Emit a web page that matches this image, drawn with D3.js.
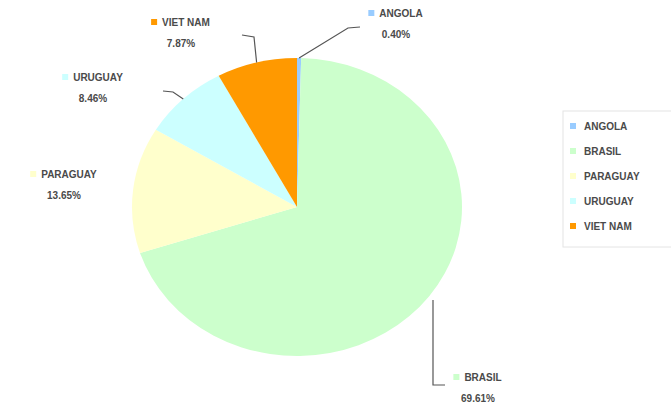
<!DOCTYPE html>
<html>
<head>
<meta charset="utf-8">
<script src="https://cdn.jsdelivr.net/npm/d3@7"></script>
<style>
  body { margin: 0; background: #fff; }
  text { font-family: "Liberation Sans", Arial, sans-serif; }
</style>
</head>
<body>
<div id="chart"></div>
<script>
// data
const countries = ["ANGOLA", "BRASIL", "PARAGUAY", "URUGUAY", "VIET NAM"]
const shares = [0.40, 69.61, 13.65, 8.46, 7.87]
const colors = ["#99ccff", "#ccffcc", "#ffffcc", "#ccffff", "#ff9900"]

const width = 671
const height = 410
const cx = 297, cy = 207
const rx = 165, ry = 149

const svg = d3.select("#chart").append("svg")
    .attr("width", width)
    .attr("height", height)

const data = countries.map((c, i) => ({ name: c, value: shares[i], color: colors[i] }))

const pie = d3.pie().sort(null).value(d => d.value)
const arcs = pie(data)

const arc = d3.arc().innerRadius(0).outerRadius(ry)

// pie is drawn slightly wider than tall, like the reference
const pieGroup = svg.append("g")
    .attr("transform", `translate(${cx},${cy}) scale(${rx / ry},1)`)

pieGroup.selectAll("path")
  .data(arcs)
  .join("path")
    .attr("d", arc)
    .attr("fill", d => d.data.color)

// point on the ellipse edge at the slice's mid angle
const edge = (d, k = 1) => {
  const a = (d.startAngle + d.endAngle) / 2
  return [cx + rx * k * Math.sin(a), cy - ry * k * Math.cos(a)]
}

// label layout (name position, leader elbow, leader end)
const layout = {
  "ANGOLA":   { x: 396, y: 17, elbow: [348, 28], end: [360, 27] },
  "BRASIL":   { x: 478, y: 381, elbow: [433, 385], end: [445, 385], start: [433, 300] },
  "PARAGUAY": { x: 64, y: 178 },
  "URUGUAY":  { x: 93, y: 81, elbow: [173, 92], end: [163, 91] },
  "VIET NAM": { x: 181, y: 26, elbow: [254, 37], end: [242, 35] },
}

const labels = svg.append("g")

arcs.forEach(d => {
  const L = layout[d.data.name]
  if (L.elbow) {
    const p0 = L.start || edge(d, 1.0)
    labels.append("path")
        .attr("d", d3.line()([p0, L.elbow, L.end]))
        .attr("fill", "none")
        .attr("stroke", "#555")
        .attr("stroke-width", 1.2)
  }
  const name = labels.append("text")
      .attr("x", L.x + 5)
      .attr("y", L.y)
      .attr("text-anchor", "middle")
      .attr("font-size", 10)
      .attr("font-weight", "bold")
      .attr("fill", "#4a4a4a")
      .text(d.data.name)
  const w = name.node().getComputedTextLength()
  labels.append("rect")
      .attr("x", L.x + 5 - w / 2 - 11)
      .attr("y", L.y - 7)
      .attr("width", 6)
      .attr("height", 6)
      .attr("fill", d.data.color)
  labels.append("text")
      .attr("x", L.x)
      .attr("y", L.y + 21)
      .attr("text-anchor", "middle")
      .attr("font-size", 10)
      .attr("font-weight", "bold")
      .attr("fill", "#4a4a4a")
      .text(d3.format(".2f")(d.data.value) + "%")
})

// legend
const legend = svg.append("g")
    .attr("transform", "translate(563,111)")

legend.append("rect")
    .attr("width", 110)
    .attr("height", 136)
    .attr("fill", "none")
    .attr("stroke", "#e4e4e4")

const legendY = d3.scalePoint()
    .domain(countries)
    .range([19, 119])

const items = legend.selectAll(".item")
  .data(data)
  .join("g")
    .attr("class", "item")
    .attr("transform", d => `translate(0,${legendY(d.name)})`)

items.append("rect")
    .attr("x", 7)
    .attr("y", -7)
    .attr("width", 6)
    .attr("height", 6)
    .attr("fill", d => d.color)

items.append("text")
    .attr("x", 21)
    .attr("y", 0)
    .attr("font-size", 10)
    .attr("font-weight", "bold")
    .attr("fill", "#4a4a4a")
    .text(d => d.name)
</script>
</body>
</html>
